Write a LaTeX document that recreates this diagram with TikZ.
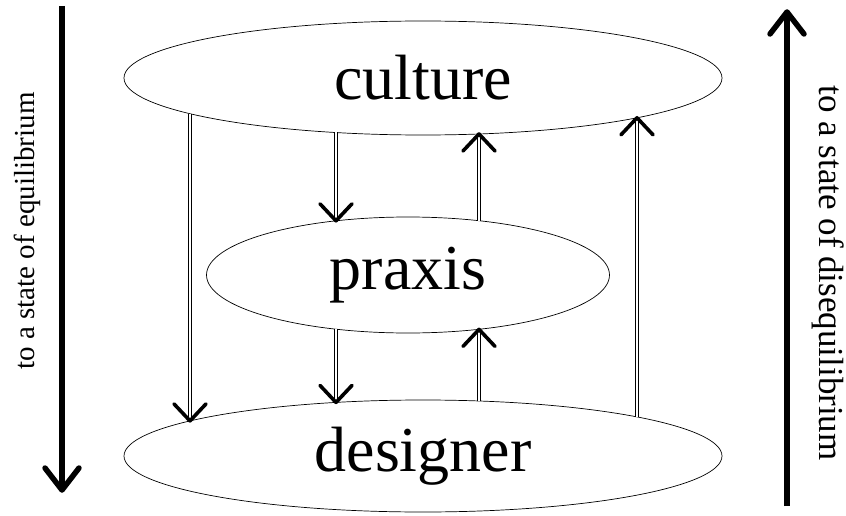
\documentclass[tikz,border=0pt]{standalone}
\usepackage{fontspec}
\setmainfont{Liberation Serif}
\usetikzlibrary{shapes.geometric}
\begin{document}
\begin{tikzpicture}[x=1pt,y=-1pt,
  oval/.style={ellipse, draw, line width=0.7pt, inner sep=0pt, font=\fontsize{64}{70}\selectfont},
  dbl/.style={draw, double, line width=0.8pt, double distance=2.4pt, shorten >=2pt},
  vhead/.style={draw, line width=3.6pt, line cap=round, line join=round},
  bigshaft/.style={draw, line width=6.5pt, shorten >=3pt},
  bighead/.style={draw, line width=5.5pt, line cap=round, line join=round},
  side/.style={inner sep=0pt}]
\useasboundingbox (0,0) rectangle (846,516);

% ellipses
\node[oval, minimum width=598pt, minimum height=114pt] (culture) at (423,78) {culture};
\node[oval, minimum width=403pt, minimum height=116pt] (praxis) at (408,275) {praxis};
\node[oval, minimum width=598pt, minimum height=112pt] (designer) at (423,456) {designer};

% connector end points on the ellipses
\coordinate (c1) at (190,113.7);
\coordinate (d1) at (190,420.9);
\coordinate (c2) at (336,132.5);
\coordinate (p2) at (336,220.8);
\coordinate (p3) at (479,220.6);
\coordinate (c3) at (479,134.0);
\coordinate (p4) at (336,329.2);
\coordinate (d4) at (336,402.4);
\coordinate (d5) at (479,401.0);
\coordinate (p5) at (479,329.4);
\coordinate (d6) at (637,417.0);
\coordinate (c6) at (637,117.8);

% culture -> designer
\draw[dbl] (c1) -- (d1);
\draw[vhead] ([shift={(-16,-17)}]d1) -- (d1) -- ([shift={(16,-17)}]d1);
% culture -> praxis
\draw[dbl] (c2) -- (p2);
\draw[vhead] ([shift={(-16,-17)}]p2) -- (p2) -- ([shift={(16,-17)}]p2);
% praxis -> culture
\draw[dbl] (p3) -- (c3);
\draw[vhead] ([shift={(-16,17)}]c3) -- (c3) -- ([shift={(16,17)}]c3);
% praxis -> designer
\draw[dbl] (p4) -- (d4);
\draw[vhead] ([shift={(-16,-17)}]d4) -- (d4) -- ([shift={(16,-17)}]d4);
% designer -> praxis
\draw[dbl] (d5) -- (p5);
\draw[vhead] ([shift={(-16,17)}]p5) -- (p5) -- ([shift={(16,17)}]p5);
% designer -> culture
\draw[dbl] (d6) -- (c6);
\draw[vhead] ([shift={(-16,17)}]c6) -- (c6) -- ([shift={(16,17)}]c6);

% side arrows
\coordinate (eqtop) at (62,6);
\coordinate (eqtip) at (62,490);
\draw[bigshaft] (eqtop) -- (eqtip);
\draw[bighead] ([shift={(-17,-22)}]eqtip) -- (eqtip) -- ([shift={(17,-22)}]eqtip);

\coordinate (diseqbot) at (787,506);
\coordinate (diseqtip) at (787,12);
\draw[bigshaft] (diseqbot) -- (diseqtip);
\draw[bighead] ([shift={(-17,22)}]diseqtip) -- (diseqtip) -- ([shift={(17,22)}]diseqtip);

% side texts
\node[side, rotate=90, font=\fontsize{29}{31}\selectfont] (eqtext) at (27,231) {to a state of equilibrium};
\node[side, rotate=-90, font=\fontsize{35}{40}\selectfont] (diseqtext) at (828,273) {to a state of disequilibrium};
\end{tikzpicture}
\end{document}
